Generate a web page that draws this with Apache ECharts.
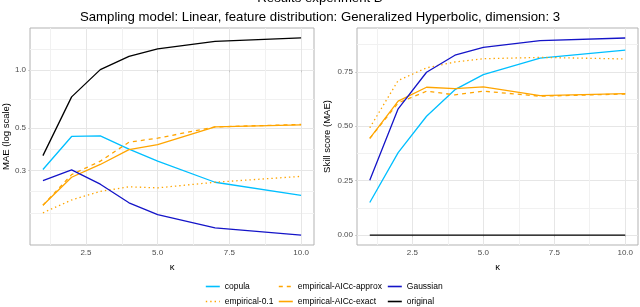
<!DOCTYPE html>
<html>
<head>
<meta charset="utf-8">
<script src="https://cdn.jsdelivr.net/npm/echarts@6/dist/echarts.min.js"></script>
<style>html,body{margin:0;padding:0;background:#fff}#c{width:640px;height:307px}</style>
</head>
<body>
<div id="c"></div>
<script>
const kappa = [1, 2, 3, 4, 5, 7, 10];
const methods = ['copula', 'empirical-0.1', 'empirical-AICc-approx', 'empirical-AICc-exact', 'Gaussian', 'original'];

// MAE (left panel, log scale)
const maeCopula = [0.303, 0.451, 0.454, 0.387, 0.335, 0.260, 0.222];
const maeEmp01 = [0.180, 0.210, 0.233, 0.246, 0.243, 0.260, 0.279];
const maeApprox = [0.197, 0.285, 0.335, 0.421, 0.442, 0.506, 0.521];
const maeExact = [0.197, 0.276, 0.322, 0.385, 0.409, 0.506, 0.519];
const maeGaussian = [0.265, 0.302, 0.254, 0.203, 0.176, 0.150, 0.1375];
const maeOriginal = [0.358, 0.726, 1.008, 1.183, 1.293, 1.417, 1.476];

// Skill score (right panel)
const skillCopula = [0.150, 0.379, 0.546, 0.668, 0.737, 0.813, 0.849];
const skillEmp01 = [0.493, 0.710, 0.768, 0.795, 0.810, 0.816, 0.809];
const skillApprox = [0.444, 0.607, 0.661, 0.644, 0.661, 0.638, 0.648];
const skillExact = [0.444, 0.615, 0.679, 0.673, 0.681, 0.641, 0.650];
const skillGaussian = [0.252, 0.580, 0.748, 0.826, 0.862, 0.893, 0.905];
const skillOriginal = [0, 0, 0, 0, 0, 0, 0];

const xTicks = [2.5, 5, 7.5, 10];
const xMinor = [1.25, 3.75, 6.25, 8.75];
const maeTicks = [0.3, 0.5, 1.0];
const maeMinor = [0.18, 0.2325, 0.387, 0.7071, 1.2915];
const skillTicks = [0, 0.25, 0.5, 0.75];
const skillMinor = [0.125, 0.375, 0.625, 0.875];

// legend layout: columns (ggplot fills by column)
const legendCols = [['copula', 'empirical-0.1'], ['empirical-AICc-approx', 'empirical-AICc-exact'], ['Gaussian', 'original']];

const maeData = [maeCopula, maeEmp01, maeApprox, maeExact, maeGaussian, maeOriginal];
const skillData = [skillCopula, skillEmp01, skillApprox, skillExact, skillGaussian, skillOriginal];
const colors = ['#00BFFF', '#FFA500', '#FFA500', '#FFA500', '#1414C8', '#000000'];
const dashes = ['solid', [1.4, 3], [4, 4], 'solid', 'solid', 'solid'];

const FONT = 'Liberation Sans';
const lg = v => Math.log10(v);

const logMin = -0.913, logMax = 0.221;

function xAxisMain(gi) {
  return {
    type: 'value', gridIndex: gi, min: 0.55, max: 10.45,
    name: 'κ', nameLocation: 'middle', nameGap: 4,
    nameTextStyle: { fontFamily: FONT, fontSize: 9.5, color: '#000' },
    axisLine: { show: false },
    axisTick: { show: true, length: 2, lineStyle: { color: '#b3b3b3', width: 0.6 }, customValues: xTicks },
    axisLabel: { customValues: xTicks, margin: 4, fontFamily: FONT, fontSize: 8, color: '#4d4d4d',
      formatter: v => Number(v).toFixed(1) },
    splitLine: { show: true, lineStyle: { color: '#e6e6e6', width: 1 } }
  };
}
function xAxisMinor(gi) {
  return {
    type: 'value', gridIndex: gi, min: 0.55, max: 10.45,
    axisLine: { show: false }, axisLabel: { show: false },
    axisTick: { show: false, customValues: xMinor },
    splitLine: { show: true, lineStyle: { color: '#f1f1f1', width: 1 } }
  };
}

const colLeft = [205, 278, 387];
const rowTop = [282, 297];
const legends = [];
legendCols.forEach((col, ci) => col.forEach((name, ri) => {
  legends.push({
    data: [name], left: colLeft[ci], top: rowTop[ri], orient: 'horizontal', padding: 0,
    itemWidth: 14, itemHeight: 8, selectedMode: false,
    itemStyle: { opacity: 0, borderWidth: 0 },
    lineStyle: { width: 1.6 },
    textStyle: { fontFamily: FONT, fontSize: 8.5, color: '#000' }
  });
}));

const option = {
  backgroundColor: '#ffffff',
  animation: false,
  title: [
    { text: 'Results experiment B', left: 'center', top: -13,
      textStyle: { fontFamily: FONT, fontSize: 13.2, fontWeight: 'normal', color: '#000' } },
    { text: 'Sampling model: Linear, feature distribution: Generalized Hyperbolic, dimension: 3', left: 'center', top: 6,
      textStyle: { fontFamily: FONT, fontSize: 13.2, fontWeight: 'normal', color: '#000' } }
  ],
  grid: [
    { left: 28, right: 326, top: 28, bottom: 62, show: true, borderColor: '#b3b3b3', borderWidth: 1, backgroundColor: '#fff' },
    { left: 357, right: 2, top: 28, bottom: 62, show: true, borderColor: '#b3b3b3', borderWidth: 1, backgroundColor: '#fff' }
  ],
  xAxis: [xAxisMain(0), xAxisMain(1), xAxisMinor(0), xAxisMinor(1)],
  yAxis: [
    {
      type: 'value', gridIndex: 0, min: logMin, max: logMax,
      name: 'MAE (log scale)', nameLocation: 'middle', nameGap: 11,
      nameTextStyle: { fontFamily: FONT, fontSize: 9.5, color: '#000' },
      axisLine: { show: false },
      axisTick: { show: true, length: 2, lineStyle: { color: '#b3b3b3', width: 0.6 }, customValues: maeTicks.map(lg) },
      axisLabel: { customValues: maeTicks.map(lg), margin: 4, fontFamily: FONT, fontSize: 8, color: '#4d4d4d',
        formatter: v => Math.pow(10, v).toFixed(1) },
      splitLine: { show: true, lineStyle: { color: '#e6e6e6', width: 1 } }
    },
    {
      type: 'value', gridIndex: 1, min: -0.045, max: 0.951,
      name: 'Skill score (MAE)', nameLocation: 'middle', nameGap: 25,
      nameTextStyle: { fontFamily: FONT, fontSize: 9.5, color: '#000' },
      axisLine: { show: false },
      axisTick: { show: true, length: 2, lineStyle: { color: '#b3b3b3', width: 0.6 }, customValues: skillTicks },
      axisLabel: { customValues: skillTicks, margin: 4, fontFamily: FONT, fontSize: 8, color: '#4d4d4d',
        formatter: v => Number(v).toFixed(2) },
      splitLine: { show: true, lineStyle: { color: '#e6e6e6', width: 1 } }
    },
    {
      type: 'value', gridIndex: 0, min: logMin, max: logMax,
      axisLine: { show: false }, axisLabel: { show: false },
      axisTick: { show: false, customValues: maeMinor.map(lg) },
      splitLine: { show: true, lineStyle: { color: '#f1f1f1', width: 1 } }
    },
    {
      type: 'value', gridIndex: 1, min: -0.045, max: 0.951,
      axisLine: { show: false }, axisLabel: { show: false },
      axisTick: { show: false, customValues: skillMinor },
      splitLine: { show: true, lineStyle: { color: '#f1f1f1', width: 1 } }
    }
  ],
  legend: legends,
  series: []
};

methods.forEach((m, i) => {
  const ls = { color: colors[i], width: 1.3, type: dashes[i] };
  option.series.push({
    name: m, type: 'line', xAxisIndex: 0, yAxisIndex: 0, symbol: 'none',
    color: colors[i], lineStyle: ls,
    data: kappa.map((k, j) => [k, lg(maeData[i][j])])
  });
  option.series.push({
    name: m, type: 'line', xAxisIndex: 1, yAxisIndex: 1, symbol: 'none',
    color: colors[i], lineStyle: ls,
    data: kappa.map((k, j) => [k, skillData[i][j]])
  });
});

const chart = echarts.init(document.getElementById('c'), null, { renderer: 'canvas' });
chart.setOption(option);
</script>
</body>
</html>
